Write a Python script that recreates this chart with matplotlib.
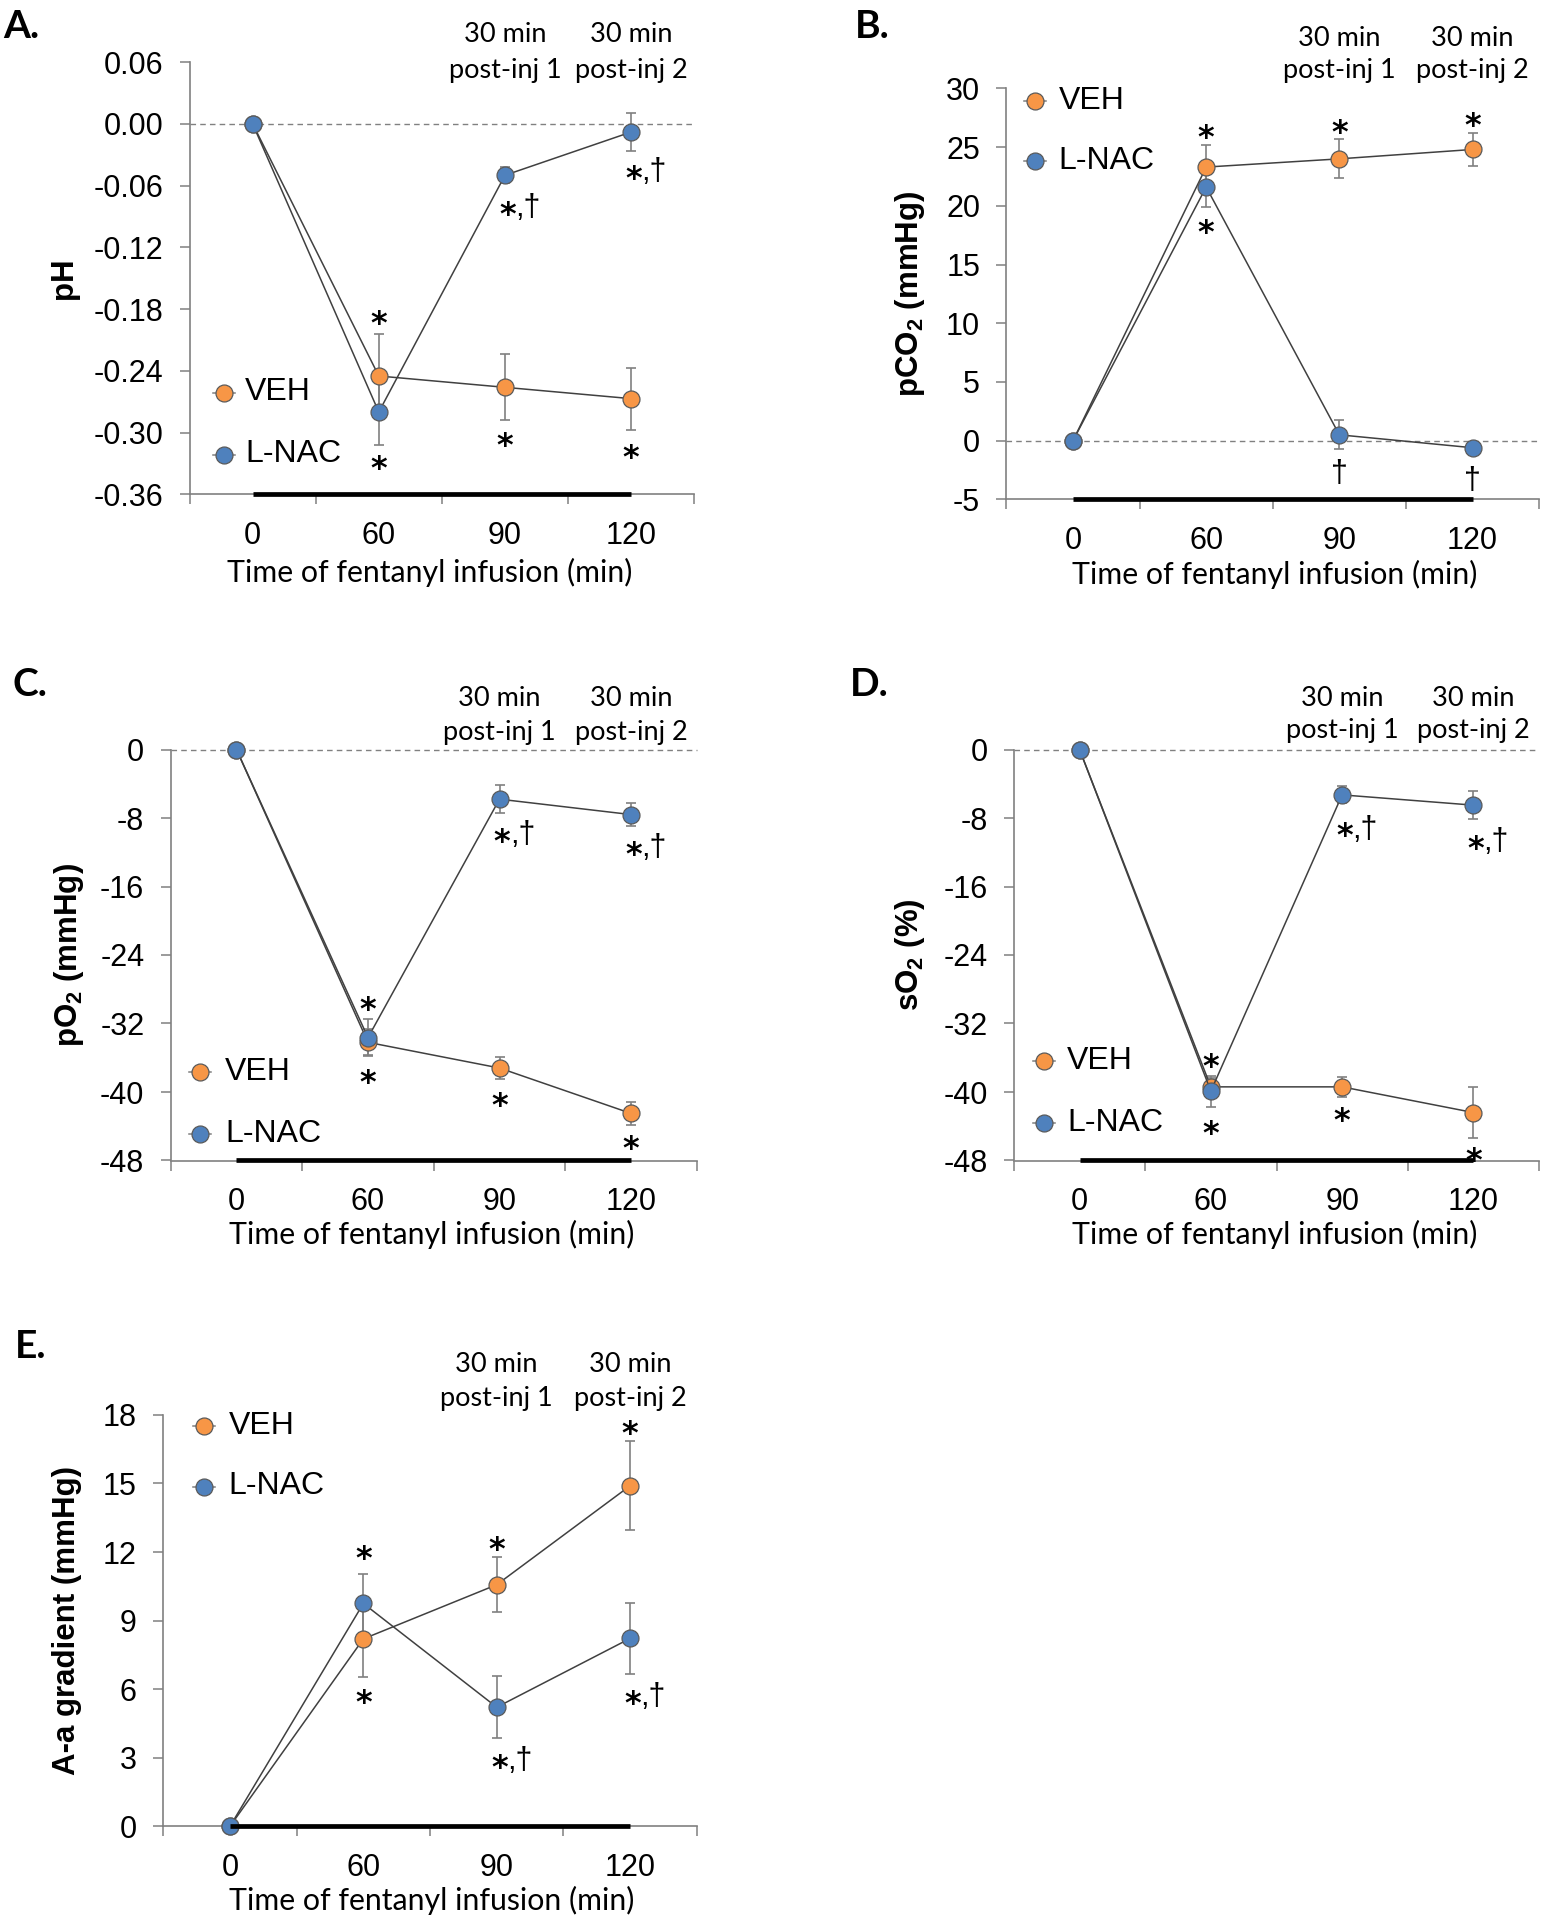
import numpy as np
import matplotlib
matplotlib.use('Agg')
import matplotlib.pyplot as plt
from matplotlib import transforms
from matplotlib.lines import Line2D

W, H = 1553, 1920

plt.rcParams['font.family'] = ['Liberation Sans', 'DejaVu Sans']
plt.rcParams['axes.unicode_minus'] = False
plt.rcParams['mathtext.fontset'] = 'custom'
plt.rcParams['mathtext.rm'] = 'Liberation Sans'
plt.rcParams['mathtext.bf'] = 'Liberation Sans:bold'

CAL = ['Lato', 'DejaVu Sans']   # stand-in for Calibri

# x categories (time of fentanyl infusion, min)
cats = ['0', '60', '90', '120']

# A. pH
ph_veh = [0, -0.245, -0.256, -0.267]
ph_veh_err = [0, 0.041, 0.032, 0.030]
ph_nac = [0, -0.280, -0.050, -0.008]
ph_nac_err = [0, 0.032, 0.008, 0.018]
ph_marks = [(1, -0.185, '*'), (1, -0.326, '*'), (2, -0.079, '*,†'),
            (2, -0.304, '*'), (3, -0.044, '*,†'), (3, -0.315, '*')]

# B. pCO2
pco2_veh = [0, 23.3, 24.0, 24.8]
pco2_veh_err = [0, 1.9, 1.65, 1.4]
pco2_nac = [0, 21.6, 0.5, -0.6]
pco2_nac_err = [0, 1.7, 1.25, 0.3]
pco2_marks = [(1, 26.6, '*'), (1, 18.5, '*'), (2, 27.0, '*'),
              (3, 27.6, '*'), (2, -2.55, '†'), (3, -3.2, '†')]

# C. pO2
po2_veh = [0, -34.2, -37.2, -42.5]
po2_veh_err = [0, 1.5, 1.3, 1.3]
po2_nac = [0, -33.65, -5.8, -7.6]
po2_nac_err = [0, 2.2, 1.6, 1.35]
po2_marks = [(1, -29.3, '*'), (1, -37.8, '*'), (2, -9.65, '*,†'),
             (2, -40.5, '*'), (3, -11.2, '*,†'), (3, -45.6, '*')]

# D. sO2
so2_veh = [0, -39.4, -39.4, -42.4]
so2_veh_err = [0, 1.0, 1.15, 3.0]
so2_nac = [0, -39.9, -5.3, -6.5]
so2_nac_err = [0, 1.8, 1.0, 1.6]
so2_marks = [(1, -36.0, '*'), (1, -43.8, '*'), (2, -9.0, '*,†'),
             (2, -42.3, '*'), (3, -10.5, '*,†'), (3, -47.0, '*')]

# E. A-a gradient
aa_veh = [0, 8.2, 10.57, 14.9]
aa_veh_err = [0, 1.66, 1.2, 1.95]
aa_nac = [0, 9.75, 5.21, 8.22]
aa_nac_err = [0, 1.29, 1.35, 1.57]
aa_marks = [(1, 12.1, '*'), (1, 5.83, '*'), (2, 12.5, '*'),
            (2, 2.98, '*,†'), (3, 17.6, '*'), (3, 5.78, '*,†')]

ORANGE = '#F79646'
BLUE = '#4F81BD'
LINE = '#404040'
GRAY = '#808080'
EDGE = '#5a5a5a'
MS = 12.2
STAR_FS = 23
DAG_FS = 22

fig = plt.figure(figsize=(W / 100, H / 100), dpi=100)


def px(x, y):
    # pixel position (from top-left) -> figure fraction
    return x / W, 1 - y / H


def put_mark(ax, i, yv, txt):
    # y is the visual centre of the glyphs
    if '*' in txt:
        dx = 0.02 if ',' in txt else 0
        tr = transforms.offset_copy(ax.transData, fig=fig, y=-0.58 * STAR_FS, units='points')
        ax.text(i + dx, yv, '*', transform=tr, ha='center', va='baseline',
                fontsize=STAR_FS, fontweight='bold', family='DejaVu Sans', zorder=6)
        if ',' in txt:
            tr = transforms.offset_copy(ax.transData, fig=fig, x=5.5,
                                        y=-0.36 * DAG_FS, units='points')
            ax.text(i + dx, yv, ',†', transform=tr, ha='left', va='baseline',
                    fontsize=DAG_FS, zorder=6)
    else:
        tr = transforms.offset_copy(ax.transData, fig=fig, y=-0.36 * DAG_FS, units='points')
        ax.text(i, yv, txt, transform=tr, ha='center', va='baseline',
                fontsize=DAG_FS, zorder=6)


def draw_panel(box, letter, ylabel, ylim, ystep, yfmt, veh, veh_err, nac, nac_err,
               marks, legend_pos, header_y, xlabel_pos, ylabel_x, zero_line=True):
    l, t, r, b = box
    ax = fig.add_axes([l / W, 1 - b / H, (r - l) / W, (b - t) / H])
    x = np.arange(len(cats))

    for vals, errs in [(veh, veh_err), (nac, nac_err)]:
        ax.errorbar(x, vals, yerr=errs, fmt='none', ecolor=GRAY, elinewidth=1.2,
                    capsize=3.6, capthick=1.2, zorder=2)
    ax.plot(x, veh, '-o', color=LINE, lw=1.1, ms=MS, mfc=ORANGE, mec=EDGE,
            mew=0.9, zorder=3, clip_on=False)
    ax.plot(x, nac, '-o', color=LINE, lw=1.1, ms=MS, mfc=BLUE, mec=EDGE,
            mew=0.9, zorder=4, clip_on=False)

    if zero_line:
        ax.axhline(0, color=GRAY, ls=(0, (4, 3)), lw=1.0, zorder=1, clip_on=False)

    # fentanyl infusion bar
    ax.plot([0, 3], [ylim[0], ylim[0]], color='black', lw=3.4, solid_capstyle='butt',
            clip_on=False, zorder=5)

    ax.set_xlim(-0.5, 3.5)
    ax.set_ylim(*ylim)
    ax.set_yticks(np.arange(ylim[0], ylim[1] + ystep / 2, ystep))
    ax.yaxis.set_major_formatter(plt.FuncFormatter(lambda v, p: yfmt % v))
    ax.set_xticks(np.arange(-0.5, 4, 1))
    ax.set_xticklabels([])
    ax.set_xticks(x, minor=True)
    ax.set_xticklabels(cats, minor=True)
    ax.tick_params(axis='x', which='major', direction='out', length=7, width=1.1, color=GRAY)
    ax.tick_params(axis='x', which='minor', length=0, pad=19, labelsize=22)
    ax.tick_params(axis='y', direction='out', length=7, width=1.1, color=GRAY,
                   pad=12, labelsize=22)
    for s in ['top', 'right']:
        ax.spines[s].set_visible(False)
    for s in ['left', 'bottom']:
        ax.spines[s].set_color(GRAY)
        ax.spines[s].set_linewidth(1.2)
    ax.patch.set_alpha(0)

    for i, yv, txt in marks:
        put_mark(ax, i, yv, txt)

    # headers above 90 and 120
    tr = transforms.blended_transform_factory(ax.transData, fig.transFigure)
    for i, n in [(2, 1), (3, 2)]:
        ax.text(i, px(0, header_y[0])[1], '30 min', transform=tr, ha='center',
                va='center', fontsize=19.5, family=CAL)
        ax.text(i, px(0, header_y[1])[1], 'post-inj %d' % n, transform=tr,
                ha='center', va='center', fontsize=19.5, family=CAL)

    # legend drawn by hand (Excel style)
    mx, y1, y2, tx = legend_pos
    for yy, col, lab in [(y1, ORANGE, 'VEH'), (y2, BLUE, 'L-NAC')]:
        fx, fy = px(mx, yy)
        fig.add_artist(Line2D([fx - 11 / W, fx + 11 / W], [fy, fy], color=GRAY, lw=1.1))
        fig.add_artist(Line2D([fx], [fy], marker='o', ms=MS, mfc=col, mec=EDGE,
                              mew=0.9, lw=0))
        fig.text(tx / W, fy, lab, ha='left', va='center', fontsize=23)

    fig.text(*px(*xlabel_pos), 'Time of fentanyl infusion (min)', ha='center',
             va='center', fontsize=21.8, family=CAL)
    fig.text(px(ylabel_x, 0)[0], px(0, (t + b) / 2)[1], ylabel, rotation=90,
             ha='center', va='center', fontsize=22.5, fontweight='bold')
    fig.text(*px(letter[1], letter[2]), letter[0], ha='left', va='baseline',
             fontsize=28, fontweight='bold', family=CAL)
    return ax


draw_panel((189.5, 62, 694.3, 494.4), ('A.', 3, 38), 'pH', (-0.36, 0.06), 0.06, '%.2f',
           ph_veh, ph_veh_err, ph_nac, ph_nac_err, ph_marks,
           (224, 392.5, 454.5, 245), (34, 70.5), (430, 572), 64)
draw_panel((1006.4, 88.4, 1539.1, 499.4), ('B.', 855, 38.3), r'pCO$_\mathbf{2}$ (mmHg)',
           (-5, 30), 5, '%d',
           pco2_veh, pco2_veh_err, pco2_nac, pco2_nac_err, pco2_marks,
           (1034.7, 101.4, 160.7, 1058.5), (38.3, 70.8), (1275, 574), 910)
draw_panel((170.7, 749.5, 696.8, 1160.5), ('C.', 12, 696.4), r'pO$_\mathbf{2}$ (mmHg)',
           (-48, 0), 8, '%d',
           po2_veh, po2_veh_err, po2_nac, po2_nac_err, po2_marks,
           (200.4, 1072.1, 1133.7, 225.2), (698.3, 732.7), (432, 1234), 69)
draw_panel((1013.9, 749.5, 1539.1, 1160.5), ('D.', 850, 696.4), r'sO$_\mathbf{2}$ (%)',
           (-48, 0), 8, '%d',
           so2_veh, so2_veh_err, so2_nac, so2_nac_err, so2_marks,
           (1043.6, 1061, 1123, 1066.9), (698.3, 730.8), (1275, 1234), 910)
draw_panel((163.3, 1414.9, 696.8, 1826.3), ('E.', 14.8, 1358.3), 'A-a gradient (mmHg)',
           (0, 18), 3, '%d',
           aa_veh, aa_veh_err, aa_nac, aa_nac_err, aa_marks,
           (204.4, 1426, 1486.5, 228.6), (1364, 1398.4), (432, 1900), 67,
           zero_line=False)

fig.savefig('out.png', dpi=100, facecolor='white')
